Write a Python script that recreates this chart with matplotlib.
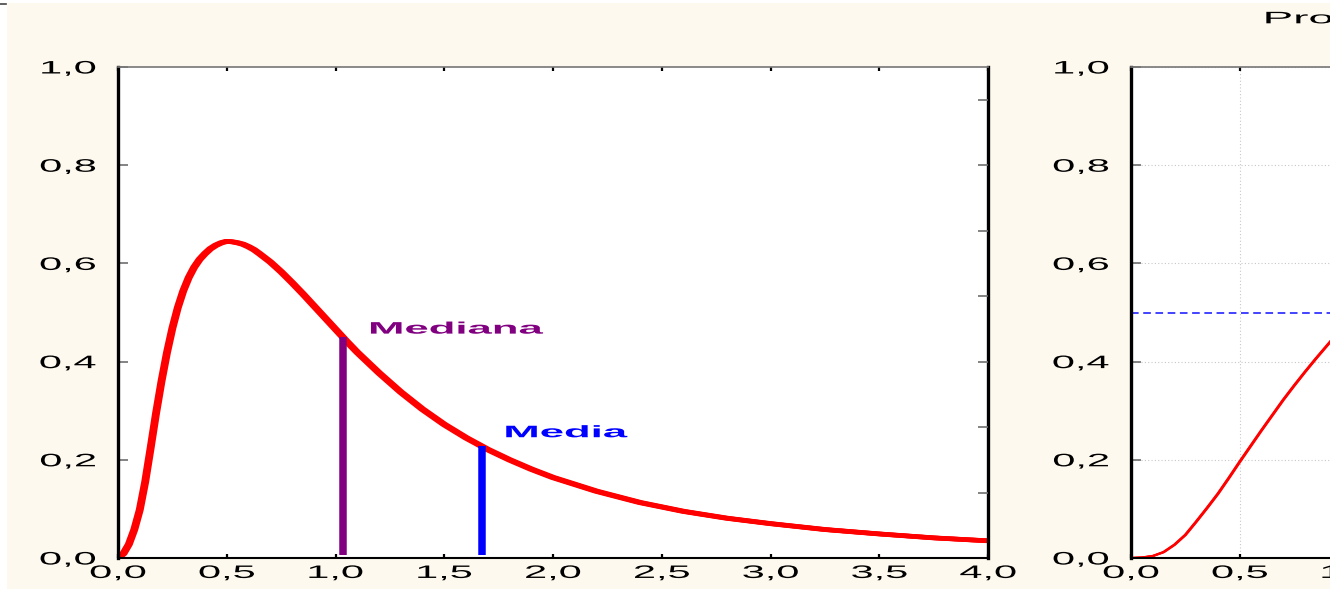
import matplotlib
matplotlib.use("Agg")
import matplotlib.pyplot as plt
import matplotlib.patheffects as pe
from matplotlib.patheffects import AbstractPathEffect
from matplotlib.transforms import Affine2D
from matplotlib.patches import Rectangle
from matplotlib.lines import Line2D

# ---------------------------------------------------------------- data
# density curve (left panel)
pdf_x = [0.000, 0.025, 0.050, 0.075, 0.100, 0.125, 0.150, 0.175, 0.200, 0.225,
         0.250, 0.275, 0.300, 0.325, 0.350, 0.375, 0.400, 0.425, 0.450, 0.475,
         0.500, 0.525, 0.550, 0.575, 0.600, 0.625, 0.650, 0.700, 0.750, 0.800,
         0.850, 0.900, 0.950, 1.000, 1.050, 1.100, 1.200, 1.300, 1.400, 1.500,
         1.600, 1.700, 1.800, 1.900, 2.000, 2.200, 2.400, 2.600, 2.800, 3.000,
         3.250, 3.500, 3.750, 4.000]
pdf_y = [0.000, 0.009, 0.028, 0.058, 0.098, 0.155, 0.224, 0.295, 0.360, 0.418,
         0.468, 0.510, 0.544, 0.571, 0.592, 0.608, 0.620, 0.630, 0.637, 0.642,
         0.645, 0.644, 0.642, 0.639, 0.634, 0.628, 0.620, 0.603, 0.583, 0.561,
         0.538, 0.514, 0.490, 0.466, 0.442, 0.419, 0.377, 0.338, 0.303, 0.272,
         0.245, 0.221, 0.200, 0.181, 0.164, 0.136, 0.113, 0.095, 0.081, 0.070,
         0.058, 0.049, 0.041, 0.035]

# cumulative curve (right panel)
cdf_x = [0.00, 0.05, 0.10, 0.15, 0.20, 0.25, 0.30, 0.35, 0.40, 0.45, 0.50,
         0.55, 0.60, 0.65, 0.70, 0.75, 0.80, 0.85, 0.90, 0.95, 1.00, 1.05]
cdf_y = [0.000, 0.001, 0.004, 0.012, 0.027, 0.047, 0.074, 0.102, 0.131, 0.163, 0.196,
         0.228, 0.260, 0.291, 0.322, 0.351, 0.379, 0.406, 0.432, 0.458, 0.484, 0.507]

median_x, median_y = 1.034, 0.450
mean_x, mean_y = 1.674, 0.229
median_label = "Mediana"
mean_label = "Media"
cdf_title = "Probabilidad acumulada"

x_ticks = [0.0, 0.5, 1.0, 1.5, 2.0, 2.5, 3.0, 3.5, 4.0]
x_tick_labels = ["0,0", "0,5", "1,0", "1,5", "2,0", "2,5", "3,0", "3,5", "4,0"]
y_ticks = [0.0, 0.2, 0.4, 0.6, 0.8, 1.0]
y_tick_labels = ["0,0", "0,2", "0,4", "0,6", "0,8", "1,0"]
right_ticks = [1, 2, 3, 4, 5, 6, 7]

# ---------------------------------------------------------------- style
CREAM = "#FEF9EE"
TICK_GREY = "#6E6E6E"
FONT = "Liberation Sans"


class WideText(AbstractPathEffect):
    """Draws text glyphs stretched horizontally around an anchor edge."""

    def __init__(self, sx, anchor="center"):
        super().__init__((0, 0))
        self.sx = sx
        self.anchor = anchor

    def draw_path(self, renderer, gc, tpath, affine, rgbFace=None):
        bb = tpath.get_extents(affine)
        if self.anchor == "left":
            x0 = bb.x0
        elif self.anchor == "right":
            x0 = bb.x1
        else:
            x0 = 0.5 * (bb.x0 + bb.x1)
        stretch = Affine2D().translate(-x0, 0).scale(self.sx, 1.0).translate(x0, 0)
        renderer.draw_path(gc, tpath, affine + stretch, rgbFace)


# wide pen: steep stretches of a line come out broader than flat ones
wide_pen = [pe.Stroke(offset=(-1.2, 0)), pe.Stroke(offset=(1.2, 0)), pe.Normal()]

W, H = 1330, 589
fig = plt.figure(figsize=(W / 100, H / 100), dpi=100, facecolor="white")
fig.add_artist(Rectangle((7 / W, 0), 1, (H - 3) / H, transform=fig.transFigure,
                         facecolor=CREAM, edgecolor="none", zorder=0))
fig.add_artist(Line2D([0, 6 / W], [(H - 4) / H] * 2, transform=fig.transFigure,
                      color="#444444", lw=1.2))


def style_axes(ax):
    ax.set_xlim(0, 4)
    ax.set_ylim(0, 1)
    ax.set_facecolor("white")
    ax.spines["left"].set(linewidth=2.4, color="black")
    ax.spines["right"].set(linewidth=2.4, color="black")
    ax.spines["bottom"].set(linewidth=1.5, color="black")
    ax.spines["top"].set(linewidth=1.2, color="#777777")
    ax.set_xticks(x_ticks, x_tick_labels)
    ax.set_yticks(y_ticks, y_tick_labels)
    ax.tick_params(axis="x", direction="in", length=3, width=1.6, color="black",
                   top=True, bottom=True, labelsize=13, pad=5)
    ax.tick_params(axis="y", direction="in", length=7.5, width=1.2, color=TICK_GREY,
                   left=True, right=False, labelsize=13, pad=16)
    for lab in ax.get_xticklabels():
        lab.set_fontfamily(FONT)
        lab.set_path_effects([WideText(2.3, "center")])
    for lab in ax.get_yticklabels():
        lab.set_fontfamily(FONT)
        lab.set_path_effects([WideText(2.3, "right")])


# ---------------------------------------------------------------- left panel: density
ax = fig.add_axes([118 / W, (H - 558) / H, 870 / W, 491 / H])
style_axes(ax)
ax.plot(pdf_x, pdf_y, color="#FF0000", lw=3.3, solid_capstyle="round",
        solid_joinstyle="round", zorder=2, path_effects=wide_pen)
ax.plot([median_x, median_x], [0.006, median_y], color="#800080", lw=5.4,
        solid_capstyle="butt", zorder=3)
ax.plot([mean_x, mean_x], [0.006, mean_y], color="#0000FF", lw=5.4,
        solid_capstyle="butt", zorder=3)
ax.text(1.158, 0.457, median_label, color="#800080", fontsize=12, fontweight="bold",
        family=FONT, ha="left", va="baseline",
        path_effects=[WideText(2.62, "left")])
ax.text(1.78, 0.246, mean_label, color="#0000FF", fontsize=12, fontweight="bold",
        family=FONT, ha="left", va="baseline",
        path_effects=[WideText(2.62, "left")])

# secondary scale ticks on the right spine
axr = ax.twinx()
axr.set_ylim(0, 7.5)
axr.set_yticks(right_ticks)
axr.tick_params(axis="y", direction="in", length=7, width=1.2, color=TICK_GREY,
                labelright=False)
for s in axr.spines.values():
    s.set_visible(False)

# ---------------------------------------------------------------- right panel: cumulative
ax2 = fig.add_axes([1131 / W, (H - 558) / H, 870 / W, 491 / H])
style_axes(ax2)
ax2.grid(True, color="#C8C8C8", lw=0.8, ls=(0, (1, 2)))
ax2.set_axisbelow(True)
ax2.plot(cdf_x, cdf_y, color="#FF0000", lw=1.5, zorder=2,
         path_effects=[pe.Stroke(offset=(-0.4, 0)), pe.Stroke(offset=(0.4, 0)), pe.Normal()])
ax2.plot([0, median_x], [0.5, 0.5], color="#1010FF", lw=1.1, ls=(0, (5, 3)), zorder=2)

fig.text(1265 / W, (H - 23.3) / H, cdf_title, color="black", fontsize=12,
         family=FONT, ha="left", va="baseline",
         path_effects=[WideText(2.75, "left")])

fig.savefig("out.png", dpi=100, facecolor=fig.get_facecolor())
